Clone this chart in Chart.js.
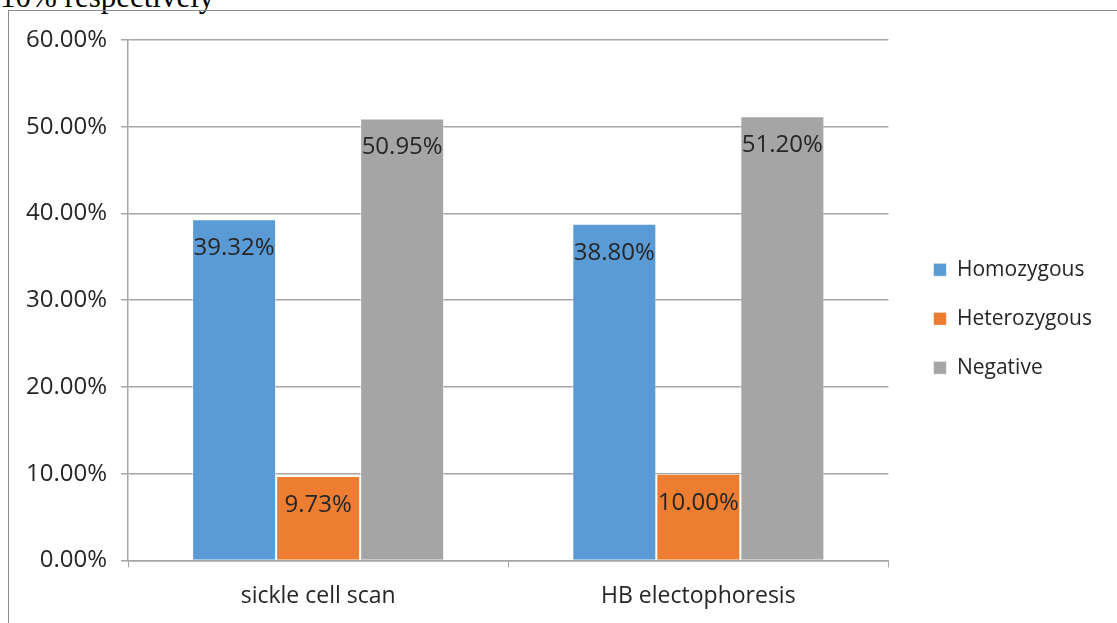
<!DOCTYPE html>
<html>
<head>
<meta charset="utf-8">
<script src="https://cdn.jsdelivr.net/npm/chart.js"></script>
<style>
  html, body { margin: 0; padding: 0; background: #fff; overflow: hidden; }
  #wrap { position: relative; width: 1117px; height: 623px; overflow: hidden; }
  #caption { position: absolute; left: 0; top: -19px; font: 31px/31px "Liberation Serif", "DejaVu Serif", serif; color: #000; white-space: nowrap; }
  #frame { position: absolute; left: 8px; top: 10px; width: 1200px; height: 700px; border-left: 1.5px solid #8c8c8c; border-top: 1.5px solid #8c8c8c; }
  #chart { position: absolute; left: 0; top: 0; }
</style>
</head>
<body>
<div id="wrap">
  <div id="caption">10% respectively</div>
  <div id="frame"></div>
  <canvas id="chart" width="1117" height="623"></canvas>
</div>
<script>
// categories and series, values in fractions
const categories = ['sickle cell scan', 'HB electophoresis'];
const homozygous = [0.3932, 0.3880];
const heterozygous = [0.0973, 0.1000];
const negative = [0.5095, 0.5120];
const seriesNames = ['Homozygous', 'Heterozygous', 'Negative'];
const seriesColors = ['#5b9bd5', '#ed7d31', '#a5a5a5'];

const FONT = '"Open Sans", "Noto Sans", sans-serif';

function pct(v) {
  return (v * 100).toFixed(2) + '%';
}

// draws value labels just inside the top of each bar
const barLabels = {
  id: 'barLabels',
  afterDatasetsDraw(chart) {
    const ctx = chart.ctx;
    ctx.save();
    ctx.font = '24px ' + FONT;
    ctx.fillStyle = '#262626';
    ctx.textAlign = 'center';
    ctx.textBaseline = 'middle';
    chart.data.datasets.forEach((ds, i) => {
      chart.getDatasetMeta(i).data.forEach((bar, j) => {
        ctx.fillText(pct(ds.data[j]), bar.x, bar.y + 29);
      });
    });
    ctx.restore();
  }
};

const seriesData = [homozygous, heterozygous, negative];

new Chart(document.getElementById('chart'), {
  type: 'bar',
  data: {
    labels: categories,
    datasets: seriesNames.map((name, i) => ({
      label: name,
      data: seriesData[i],
      backgroundColor: seriesColors[i],
      borderColor: 'rgba(255,255,255,0.6)',
      borderWidth: 1,
      categoryPercentage: 0.663,
      barPercentage: 1
    }))
  },
  options: {
    responsive: false,
    animation: false,
    devicePixelRatio: 1,
    layout: { padding: { left: 12, right: 15, top: 40, bottom: -2 } },
    plugins: {
      tooltip: { enabled: false },
      legend: {
        position: 'right',
        fullSize: false,
        maxWidth: 400,
        title: { display: true, text: ' ', font: { size: 1 }, padding: { top: 18, bottom: 18 } },
        labels: {
          color: '#262626',
          font: { family: FONT, size: 21 },
          boxWidth: 13,
          boxHeight: 13,
          padding: 28
        }
      }
    },
    scales: {
      x: {
        offset: true,
        grid: { offset: true, drawOnChartArea: false, drawTicks: true, tickLength: 7, color: '#a6a6a6' },
        border: { color: '#a6a6a6', width: 1.5 },
        ticks: { color: '#262626', font: { family: FONT, size: 23 }, padding: 15 }
      },
      y: {
        min: 0,
        max: 0.6,
        ticks: {
          stepSize: 0.1,
          color: '#262626',
          font: { family: FONT, size: 24 },
          padding: 14,
          callback: v => pct(v)
        },
        grid: { color: '#a6a6a6', lineWidth: 1.5, tickLength: 7 },
        border: { color: '#a6a6a6', width: 1.5 }
      },
      // empty spacer between plot area and legend
      gap: {
        type: 'linear',
        position: 'right',
        weight: 0,
        grid: { display: false },
        border: { display: false },
        ticks: { display: false },
        afterFit: s => { s.width = 17; }
      }
    }
  },
  plugins: [barLabels]
});
</script>
</body>
</html>
